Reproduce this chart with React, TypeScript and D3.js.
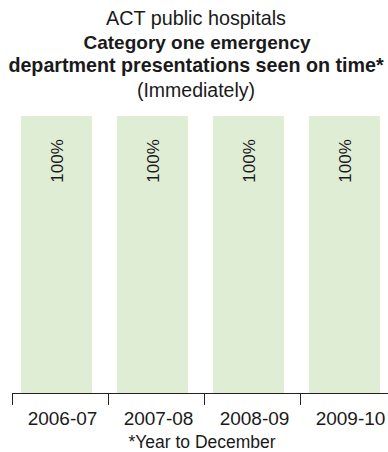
import React from "react";
import * as d3 from "d3";

const categories = ["2006-07", "2007-08", "2008-09", "2009-10"];
const values = [100, 100, 100, 100];
const valueLabels = ["100%", "100%", "100%", "100%"];

const W = 388;
const H = 452;
const FONT = "'Liberation Sans', Arial, sans-serif";

export default function App() {
  const x = d3.scaleBand<string>().domain(categories).range([12, 12 + 96 * 4]).padding(0);
  const y = d3.scaleLinear().domain([0, 100]).range([393, 116]);
  const barOffset = 9;
  const barW = 71;

  return (
    <svg width={W} height={H} style={{ position: "absolute", left: 0, top: 0 }}>
      <g fontFamily={FONT} fill="#1a1a1a" textAnchor="middle">
        <text x={196} y={24.5} fontSize={19.8}>ACT public hospitals</text>
        <text x={197} y={48.5} fontSize={19} fontWeight="bold">Category one emergency</text>
        <text x={196} y={72} fontSize={19.7} fontWeight="bold">department presentations seen on time*</text>
        <text x={196} y={97} fontSize={19.5}>(Immediately)</text>
      </g>
      {categories.map((c, i) => {
        const bx = (x(c) as number) + barOffset;
        return (
          <g key={c}>
            <rect x={bx} y={y(values[i])} width={barW} height={y(0) - y(values[i])} fill="#deedd4" />
            <text
              transform={`translate(${bx + barW / 2 + 6},${161}) rotate(-90)`}
              textAnchor="middle"
              fontFamily={FONT}
              fontSize={17}
              fill="#1a1a1a"
            >
              {valueLabels[i]}
            </text>
          </g>
        );
      })}
      <line x1={12} x2={W} y1={393.5} y2={393.5} stroke="#222" strokeWidth={1} />
      {categories.map((c) => (
        <line key={"t" + c} x1={(x(c) as number) + 0.5} x2={(x(c) as number) + 0.5} y1={393} y2={405} stroke="#222" strokeWidth={1} />
      ))}
      {categories.map((c) => (
        <text
          key={"l" + c}
          x={(x(c) as number) + barOffset + barW / 2 + 6}
          y={425}
          textAnchor="middle"
          fontFamily={FONT}
          fontSize={19}
          fill="#1a1a1a"
        >
          {c}
        </text>
      ))}
      <text x={202} y={447.5} textAnchor="middle" fontFamily={FONT} fontSize={17.5} fill="#1a1a1a">
        *Year to December
      </text>
    </svg>
  );
}
